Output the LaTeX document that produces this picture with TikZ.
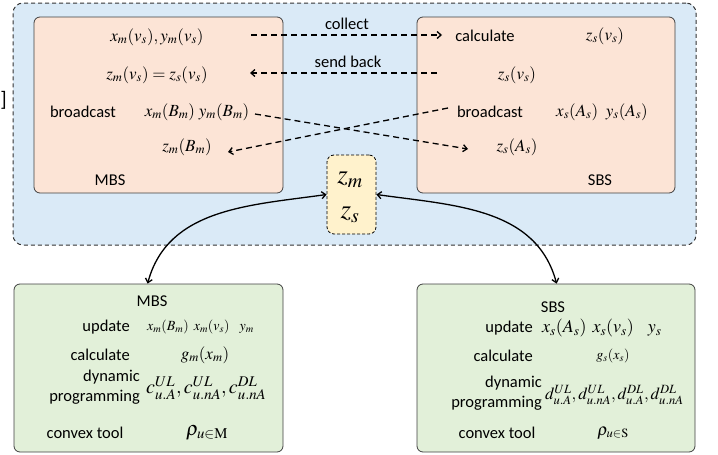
\documentclass[tikz,border=0pt]{standalone}
\usepackage{mathptmx}
\usepackage[no-math]{fontspec}
\setmainfont{Carlito}
\usetikzlibrary{arrows.meta,calc}

\definecolor{outerblue}{HTML}{DAEAF7}
\definecolor{peach}{HTML}{FCE4D6}
\definecolor{paleyellow}{HTML}{FFF2CC}
\definecolor{palegreen}{HTML}{E2F0D9}
\definecolor{edgegray}{HTML}{404040}

\tikzset{
  txt/.style={font=\fontsize{16.5}{19}\selectfont, inner sep=0pt},
  mth/.style={font=\fontsize{17}{20}\selectfont, inner sep=0pt},
  smth/.style={font=\fontsize{14}{17}\selectfont, inner sep=0pt},
  panel/.style={draw=edgegray, line width=0.8pt, rounded corners=6pt, inner sep=0pt},
  dasharrow/.style={line width=1.3pt, dash pattern=on 6pt off 4pt, -{Straight Barb[length=4pt,width=7pt]}},
  linkarrow/.style={line width=1.3pt, {Straight Barb[length=4pt,width=7pt]}-{Straight Barb[length=4pt,width=7pt]}}
}

\begin{document}
\begin{tikzpicture}[x=1pt,y=-1pt]
\useasboundingbox (0,0) rectangle (718,455);

% shared region holding both stations
\node[draw=black!80, fill=outerblue, line width=1pt, dash pattern=on 4pt off 3pt,
      rounded corners=10pt, minimum width=683pt, minimum height=242pt, inner sep=0pt]
      (outer) at (354.5,124) {};
\node[font=\fontsize{21}{24}\selectfont, inner sep=0pt, anchor=east] (cut) at (7,100) {0]};

% macro base station and small base station panels
\node[panel, fill=peach, minimum width=249pt, minimum height=176pt] (mbs) at (158.5,105) {};
\node[panel, fill=peach, minimum width=258pt, minimum height=176pt] (sbs) at (546,105) {};

% consensus variables
\node[draw=black, fill=paleyellow, line width=0.8pt, dash pattern=on 3pt off 2pt,
      rounded corners=7pt, minimum width=49pt, minimum height=79pt, inner sep=0pt]
      (zz) at (351.5,194.5) {};
\node[font=\fontsize{27}{30}\selectfont, inner sep=0pt] (zm) at (350,180) {$z_m$};
\node[font=\fontsize{27}{30}\selectfont, inner sep=0pt] (zs) at (350,215) {$z_s$};

% MBS contents
\node[mth] (a1) at (157,37) {$x_m(v_s),y_m(v_s)$};
\node[mth] (a2) at (157,75) {$z_m(v_s)=z_s(v_s)$};
\node[txt] (a3) at (83,112) {broadcast};
\node[mth] (a4) at (197,112) {$x_m(B_m)\ y_m(B_m)$};
\node[mth] (a5) at (187,147) {$z_m(B_m)$};
\node[txt] (mbslabel) at (110,180) {MBS};

% SBS contents
\node[txt] (b1) at (485,36) {calculate};
\node[mth] (b2) at (605,36) {$z_s(v_s)$};
\node[mth] (b3) at (517,75) {$z_s(v_s)$};
\node[txt] (b4) at (490,112) {broadcast};
\node[mth] (b5) at (602,112) {$x_s(A_s)\ \ y_s(A_s)$};
\node[mth] (b6) at (517,147) {$z_s(A_s)$};
\node[txt] (sbslabel) at (600,180) {SBS};

% message exchange
\coordinate (c1s) at (251,35);  \coordinate (c1e) at (442,35);
\coordinate (c2s) at (437,73);  \coordinate (c2e) at (250,73);
\coordinate (c3s) at (255,114); \coordinate (c3e) at (468,149);
\coordinate (c4s) at (448,108); \coordinate (c4e) at (228,152);
\draw[dasharrow] (c1s) -- (c1e);
\draw[dasharrow] (c2s) -- (c2e);
\draw[dasharrow] (c3s) -- (c3e);
\draw[dasharrow] (c4s) -- (c4e);
\node[txt] (collect) at (347,24) {collect};
\node[txt] (sendback) at (348,62) {send back};

% local processing at MBS
\node[panel, fill=palegreen, minimum width=269pt, minimum height=168pt] (gm) at (148.5,368) {};
\node[txt] (gmlabel) at (152,301) {MBS};
\node[txt, anchor=east] (gm1) at (130,327) {update};
\node[smth, anchor=west] (gm1m) at (147,327) {$x_m(B_m)\hspace{5pt}x_m(v_s)\hspace{10pt}y_m$};
\node[txt, anchor=east] (gm2) at (130,355) {calculate};
\node[mth] (gm2m) at (205,355) {$g_m(x_m)$};
\node[txt, anchor=east] (gm3) at (140,377) {dynamic};
\node[txt, anchor=east] (gm4) at (140,397) {programming};
\node[font=\fontsize{20}{22}\selectfont, inner sep=0pt, anchor=west] (gm3m) at (146,388)
  {$c_{u.A}^{UL},c_{u.nA}^{UL},c_{u.nA}^{DL}$};
\node[txt] (gm5) at (85,433) {convex tool};
\node[font=\fontsize{20}{22}\selectfont, inner sep=0pt] (gm5m) at (207,433) {$\rho_{u\in\mathrm{M}}$};

% local processing at SBS
\node[panel, fill=palegreen, minimum width=278pt, minimum height=168pt] (gs) at (556,368) {};
\node[txt] (gslabel) at (553,307) {SBS};
\node[txt, anchor=east] (gs1) at (533,328) {update};
\node[font=\fontsize{18}{21}\selectfont, inner sep=0pt, anchor=west] (gs1m) at (542,328)
  {$x_s(A_s)\hspace{6pt}x_s(v_s)\hspace{14pt}y_s$};
\node[txt, anchor=east] (gs2) at (533,356) {calculate};
\node[smth] (gs2m) at (613,356) {$g_s(x_s)$};
\node[txt, anchor=east] (gs3) at (542,383) {dynamic};
\node[txt, anchor=east] (gs4) at (542,403) {programming};
\node[font=\fontsize{17}{20}\selectfont, inner sep=0pt, anchor=west] (gs3m) at (545,395)
  {$d_{u.A}^{UL},d_{u.nA}^{UL},d_{u.A}^{DL},d_{u.nA}^{DL}$};
\node[txt] (gs5) at (497,433) {convex tool};
\node[font=\fontsize{17}{20}\selectfont, inner sep=0pt] (gs5m) at (613,433) {$\rho_{u\in\mathrm{S}}$};

% links between the shared variables and each station
\coordinate (gmtop) at ($(gm.north west)+(134,0)$);
\coordinate (gstop) at ($(gs.north west)+(140,0)$);
\draw[linkarrow] (zz.west) to[out=188, in=75] (gmtop);
\draw[linkarrow] (zz.east) to[out=-8, in=105] (gstop);
\end{tikzpicture}
\end{document}
